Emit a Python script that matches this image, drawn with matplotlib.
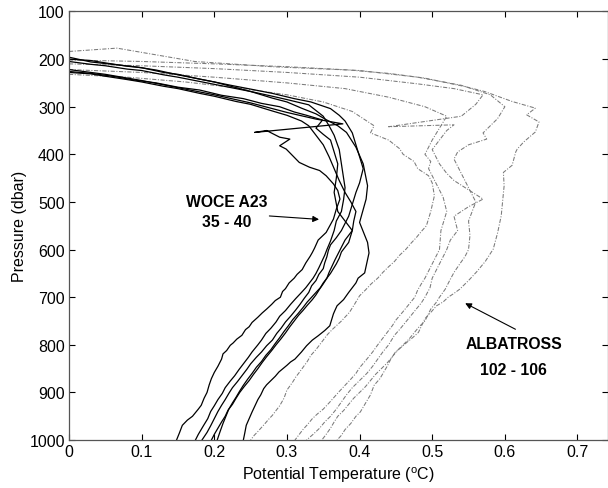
import matplotlib
matplotlib.use("Agg")
import matplotlib.pyplot as plt

plt.rcParams['font.family'] = ['Liberation Sans', 'DejaVu Sans']
plt.rcParams['mathtext.default'] = 'regular'

# WOCE A23 stations 35 - 40 (temperature, pressure)
w1_t = [0.0, 0.05, 0.10, 0.15, 0.20, 0.25, 0.30, 0.34, 0.377, 0.2555, 0.272, 0.29, 0.304, 0.29, 0.299, 0.308,
        0.317, 0.331, 0.345, 0.354, 0.364, 0.370, 0.373, 0.368, 0.364, 0.354, 0.343, 0.338, 0.335, 0.332, 0.326,
        0.321, 0.314, 0.31, 0.303, 0.298, 0.294, 0.291, 0.284, 0.279, 0.272, 0.266, 0.26, 0.252, 0.248, 0.243,
        0.238, 0.231, 0.226, 0.222, 0.217, 0.212, 0.21, 0.205, 0.2, 0.196, 0.193, 0.19, 0.186, 0.182, 0.178,
        0.17, 0.163, 0.156, 0.152, 0.148]
w1_p = [222, 232, 245, 260, 275, 292, 312, 326, 336, 354, 350, 364, 368, 382, 389, 403,
        417, 427, 434, 445, 462, 476, 494, 515, 536, 564, 580, 597, 606, 614, 628,
        642, 652, 660, 670, 682, 688, 700, 707, 715, 725, 733, 742, 753, 762, 768,
        780, 788, 796, 801, 812, 819, 830, 845, 858, 871, 884, 900, 912, 927, 935,
        950, 958, 969, 985, 1000]

w2_t = [0.0, 0.03, 0.05, 0.08, 0.10, 0.13, 0.15, 0.18, 0.20, 0.23, 0.25, 0.28, 0.30, 0.33, 0.35, 0.358,
        0.365, 0.372, 0.375, 0.38, 0.378, 0.375, 0.368, 0.365, 0.36, 0.355, 0.352, 0.348, 0.344, 0.34, 0.336,
        0.33, 0.326, 0.32, 0.312, 0.305, 0.298, 0.29, 0.285, 0.278, 0.271, 0.265, 0.26, 0.252, 0.247, 0.24,
        0.234, 0.228, 0.222, 0.215, 0.211, 0.205, 0.2, 0.195, 0.191, 0.185, 0.178, 0.174]
w2_p = [205, 211, 214, 221, 224, 233, 238, 247, 253, 262, 268, 278, 285, 296, 320, 340,
        360, 390, 420, 470, 495, 520, 540, 560, 582, 600, 612, 625, 638, 650, 660,
        672, 680, 690, 703, 715, 728, 740, 752, 765, 776, 790, 800, 815, 826, 840,
        852, 865, 876, 890, 902, 915, 928, 940, 955, 970, 988, 1000]

w3_t = [0.0, 0.03, 0.066, 0.09, 0.12, 0.15, 0.173, 0.2, 0.226, 0.25, 0.28, 0.31, 0.333, 0.36, 0.372, 0.38,
        0.39, 0.395, 0.40, 0.405, 0.40, 0.395, 0.385, 0.375, 0.368, 0.36, 0.357, 0.355, 0.352, 0.35, 0.344,
        0.34, 0.334, 0.33, 0.324, 0.318, 0.312, 0.305, 0.298, 0.292, 0.286, 0.28, 0.272, 0.265, 0.258, 0.25,
        0.245, 0.238, 0.232, 0.225, 0.22, 0.215, 0.21, 0.205, 0.2, 0.195, 0.19, 0.183]
w3_p = [196, 206, 212, 216, 223, 233, 240, 248, 256, 263, 272, 283, 290, 304, 318, 330,
        355, 380, 405, 430, 460, 480, 530, 560, 575, 590, 602, 615, 628, 640, 652,
        665, 676, 690, 702, 715, 727, 740, 752, 765, 776, 790, 802, 815, 826, 840,
        851, 865, 877, 890, 902, 915, 927, 940, 955, 970, 984, 1000]

w4_t = [0.0, 0.03, 0.05, 0.08, 0.10, 0.13, 0.15, 0.18, 0.20, 0.23, 0.25, 0.28, 0.30, 0.32, 0.33, 0.34,
        0.35, 0.358, 0.365, 0.372, 0.38, 0.388, 0.395, 0.392, 0.39, 0.38, 0.375, 0.37, 0.366, 0.362, 0.358,
        0.355, 0.35, 0.345, 0.34, 0.335, 0.328, 0.322, 0.316, 0.31, 0.304, 0.298, 0.292, 0.285, 0.279, 0.272,
        0.266, 0.26, 0.254, 0.248, 0.241, 0.235, 0.23, 0.225, 0.219, 0.215, 0.21, 0.205, 0.2, 0.196]
w4_p = [228, 231, 236, 243, 248, 257, 262, 272, 278, 289, 295, 309, 318, 330, 340, 360,
        380, 405, 430, 455, 480, 500, 520, 540, 560, 580, 595, 610, 622, 635, 648,
        660, 672, 683, 695, 705, 717, 728, 738, 750, 762, 775, 787, 800, 812, 825,
        837, 850, 862, 875, 888, 900, 912, 925, 937, 950, 962, 975, 988, 1000]

w5_t = [0.0, 0.03, 0.06, 0.09, 0.12, 0.15, 0.18, 0.21, 0.24, 0.265, 0.29, 0.31, 0.327, 0.349, 0.34, 0.35,
        0.36, 0.365, 0.37, 0.368, 0.365, 0.37, 0.38, 0.39, 0.385, 0.375, 0.372, 0.368, 0.364, 0.36, 0.355,
        0.35, 0.346, 0.34, 0.334, 0.328, 0.322, 0.315, 0.308, 0.302, 0.296, 0.29, 0.284, 0.278, 0.271, 0.265,
        0.258, 0.252, 0.246, 0.24, 0.235, 0.23, 0.225, 0.22, 0.216, 0.212, 0.208, 0.204]
w5_p = [226, 230, 236, 244, 250, 259, 265, 276, 283, 293, 300, 311, 318, 328, 345, 358,
        370, 395, 420, 450, 480, 520, 540, 560, 585, 605, 618, 630, 640, 650, 660,
        670, 680, 690, 700, 710, 722, 735, 747, 760, 772, 785, 797, 810, 822, 835,
        847, 860, 872, 885, 897, 910, 922, 935, 950, 965, 982, 1000]

w6_t = [0.0, 0.03, 0.05, 0.08, 0.10, 0.13, 0.15, 0.18, 0.20, 0.23, 0.25, 0.28, 0.30, 0.32, 0.34, 0.355,
        0.37, 0.382, 0.395, 0.405, 0.411, 0.409, 0.40, 0.411, 0.413, 0.41, 0.407, 0.398, 0.395, 0.385, 0.378,
        0.369, 0.366, 0.364, 0.359, 0.352, 0.343, 0.335, 0.327, 0.32, 0.311, 0.305, 0.30, 0.289, 0.284, 0.278,
        0.272, 0.268, 0.264, 0.26, 0.256, 0.252, 0.248, 0.244, 0.242, 0.24]
w6_p = [200, 203, 208, 215, 218, 228, 232, 242, 248, 260, 268, 282, 290, 303, 315, 328,
        340, 354, 385, 420, 466, 494, 543, 585, 607, 628, 649, 660, 670, 690, 705,
        718, 728, 735, 760, 770, 781, 790, 802, 815, 830, 836, 843, 857, 866, 875,
        884, 892, 905, 915, 928, 941, 955, 969, 985, 1000]

# ALBATROSS stations 102 - 106
d1_t = [0.0, 0.08, 0.16, 0.24, 0.30, 0.35, 0.39, 0.42, 0.415, 0.44, 0.455, 0.46, 0.475, 0.48, 0.495, 0.50,
        0.503, 0.498, 0.492, 0.485, 0.478, 0.47, 0.464, 0.455, 0.448, 0.44, 0.432, 0.425, 0.416, 0.408, 0.40,
        0.393, 0.386, 0.375, 0.363, 0.356, 0.35, 0.34, 0.333, 0.328, 0.317, 0.312, 0.308, 0.30, 0.296, 0.29,
        0.28, 0.275, 0.27, 0.26, 0.255, 0.25]
d1_p = [232, 238, 248, 262, 275, 290, 310, 340, 355, 370, 388, 400, 415, 430, 445, 460,
        487, 520, 550, 562, 575, 588, 599, 612, 625, 636, 648, 660, 672, 685, 697,
        715, 732, 750, 767, 778, 790, 810, 822, 835, 858, 868, 878, 895, 912, 928,
        948, 956, 965, 982, 990, 1000]

d2_t = [0.0, 0.10, 0.20, 0.30, 0.38, 0.44, 0.49, 0.52, 0.51, 0.50, 0.495, 0.49, 0.498, 0.495, 0.505, 0.51,
        0.515, 0.52, 0.515, 0.512, 0.51, 0.50, 0.49, 0.485, 0.48, 0.476, 0.468, 0.46, 0.45, 0.445, 0.44,
        0.435, 0.425, 0.418, 0.41, 0.40, 0.395, 0.388, 0.38, 0.372, 0.365, 0.358, 0.35, 0.342, 0.335, 0.328,
        0.322, 0.316, 0.311]
d2_p = [222, 228, 238, 250, 262, 280, 300, 320, 345, 370, 385, 400, 415, 430, 460, 475,
        490, 520, 545, 560, 600, 630, 660, 672, 685, 700, 715, 730, 748, 760, 770,
        780, 800, 815, 830, 848, 860, 872, 885, 898, 910, 922, 935, 945, 955, 968,
        978, 990, 1000]

d3_t = [0.0, 0.10, 0.20, 0.30, 0.40, 0.48, 0.53, 0.57, 0.56, 0.54, 0.44, 0.53, 0.52, 0.51, 0.50, 0.505,
        0.51, 0.52, 0.53, 0.57, 0.55, 0.53, 0.535, 0.525, 0.52, 0.515, 0.51, 0.505, 0.50, 0.497, 0.49,
        0.485, 0.478, 0.47, 0.462, 0.455, 0.448, 0.44, 0.432, 0.425, 0.418, 0.41, 0.40, 0.39, 0.382, 0.375,
        0.368, 0.36, 0.352, 0.345, 0.336, 0.327]
d3_p = [210, 214, 220, 228, 238, 252, 262, 275, 295, 320, 342, 338, 350, 370, 390, 405,
        420, 440, 455, 494, 510, 530, 560, 580, 600, 615, 630, 645, 660, 680, 700,
        712, 725, 740, 755, 768, 780, 800, 815, 830, 845, 860, 875, 890, 905, 920,
        935, 950, 962, 975, 988, 1000]

d4_t = [0.0, 0.10, 0.20, 0.30, 0.40, 0.48, 0.54, 0.58, 0.60, 0.59, 0.57, 0.575, 0.55, 0.535, 0.53, 0.54,
        0.545, 0.55, 0.56, 0.555, 0.55, 0.552, 0.55, 0.545, 0.538, 0.53, 0.524, 0.518, 0.51, 0.505, 0.498,
        0.49, 0.482, 0.475, 0.468, 0.46, 0.452, 0.445, 0.438, 0.43, 0.422, 0.415, 0.408, 0.40, 0.392, 0.385,
        0.378, 0.37, 0.365, 0.36, 0.354, 0.348]
d4_p = [202, 205, 210, 216, 224, 238, 255, 275, 300, 325, 355, 368, 380, 395, 410, 440,
        455, 470, 500, 520, 540, 570, 600, 615, 630, 648, 665, 683, 700, 712, 725,
        750, 762, 775, 788, 800, 812, 825, 838, 850, 862, 875, 888, 900, 912, 925,
        938, 950, 962, 975, 988, 1000]

d5_t = [0.0, 0.066, 0.173, 0.28, 0.386, 0.44, 0.49, 0.546, 0.572, 0.61, 0.642, 0.63, 0.647, 0.642, 0.626, 0.617,
        0.615, 0.61, 0.598, 0.599, 0.595, 0.59, 0.584, 0.573, 0.561, 0.55, 0.538, 0.53, 0.522, 0.515, 0.506,
        0.498, 0.49, 0.481, 0.473, 0.465, 0.449, 0.443, 0.438, 0.428, 0.42, 0.415, 0.401, 0.395, 0.388, 0.38,
        0.375, 0.369]
d5_p = [184, 177, 205, 216, 223, 230, 240, 258, 268, 289, 303, 317, 332, 353, 374, 389,
        395, 423, 438, 466, 529, 565, 599, 625, 647, 665, 683, 692, 700, 710, 718,
        732, 745, 774, 785, 795, 816, 830, 845, 871, 885, 905, 941, 950, 965, 978,
        990, 1000]

woce = [(w1_t, w1_p), (w2_t, w2_p), (w3_t, w3_p), (w4_t, w4_p), (w5_t, w5_p), (w6_t, w6_p)]
albatross = [(d1_t, d1_p), (d2_t, d2_p), (d3_t, d3_p), (d4_t, d4_p), (d5_t, d5_p)]

x_ticks = [0, 0.1, 0.2, 0.3, 0.4, 0.5, 0.6, 0.7]
x_labels = ['0', '0.1', '0.2', '0.3', '0.4', '0.5', '0.6', '0.7']
y_ticks = [100, 200, 300, 400, 500, 600, 700, 800, 900, 1000]

fig = plt.figure(figsize=(6.08, 4.89), dpi=100)
ax = fig.add_axes([0.1135, 0.098, 0.8865, 0.8765])

for t, p in albatross:
    ax.plot(t, p, color='#7a7a7a', lw=0.75, linestyle=(0, (4, 1.5, 1, 1.5)))
for t, p in woce:
    ax.plot(t, p, color='black', lw=0.9)

ax.set_xlim(0, 0.742)
ax.set_ylim(1000, 100)
ax.set_xticks(x_ticks)
ax.set_xticklabels(x_labels)
ax.set_yticks(y_ticks)
ax.tick_params(direction='in', length=4, width=0.8, top=True, right=True, labelsize=11.5, pad=3)
for s in ax.spines.values():
    s.set_color('#555555')
    s.set_linewidth(0.9)

ax.set_xlabel('Potential Temperature ($^{o}$C)', fontsize=11.5, labelpad=4)
ax.set_ylabel('Pressure (dbar)', fontsize=11.5, labelpad=2)

ax.text(0.217, 498, 'WOCE A23', fontsize=11.3, fontweight='bold', ha='center', va='center')
ax.text(0.217, 540, '35 - 40', fontsize=11.3, fontweight='bold', ha='center', va='center')
ax.annotate('', xy=(0.348, 537), xytext=(0.272, 529),
            arrowprops=dict(arrowstyle='-|>', color='black', lw=0.8, mutation_scale=9))

ax.text(0.612, 797, 'ALBATROSS', fontsize=11.3, fontweight='bold', ha='center', va='center')
ax.text(0.612, 851, '102 - 106', fontsize=11.3, fontweight='bold', ha='center', va='center')
ax.annotate('', xy=(0.542, 710), xytext=(0.618, 770),
            arrowprops=dict(arrowstyle='-|>', color='black', lw=0.8, mutation_scale=9))

fig.savefig('out.png', dpi=100)
